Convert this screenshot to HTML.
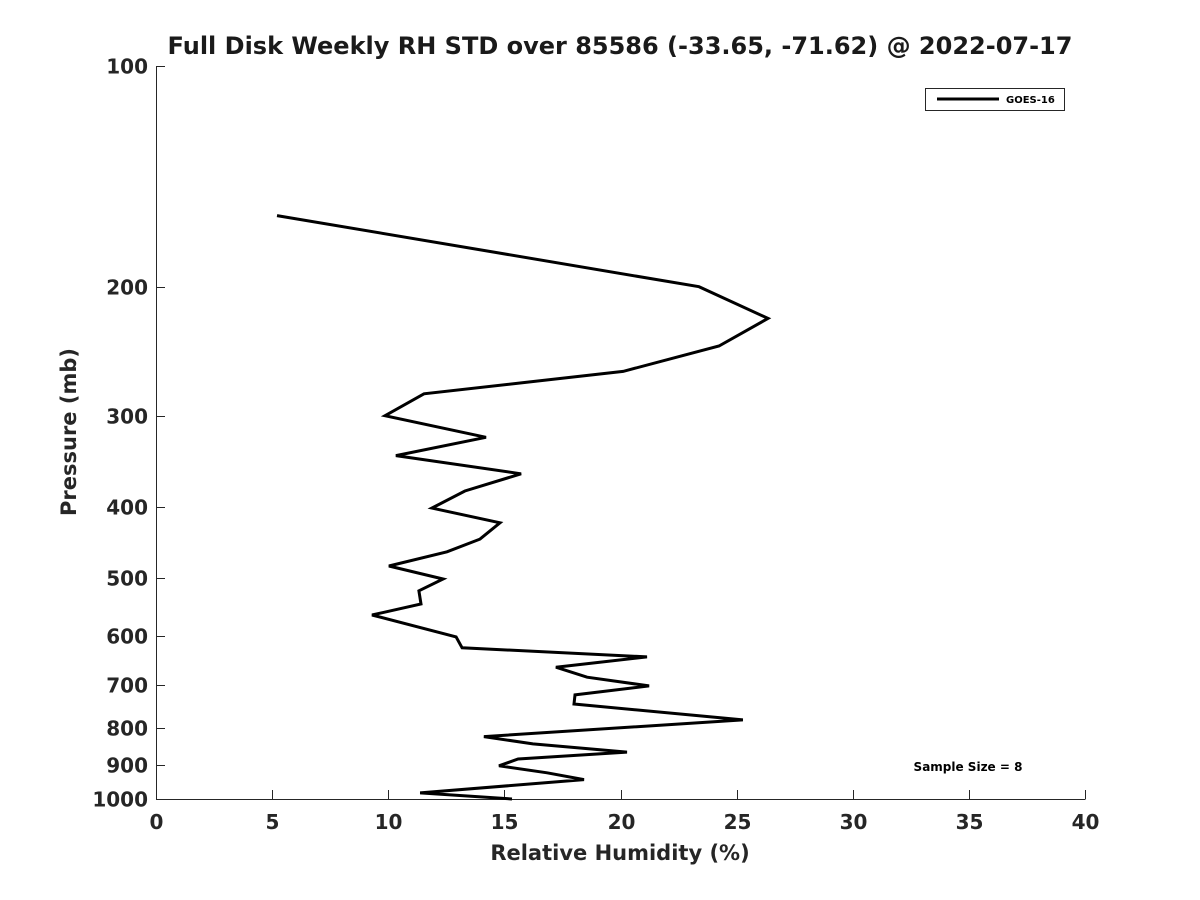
<!DOCTYPE html>
<html><head><meta charset="utf-8"><style>
html,body{margin:0;padding:0;background:#fff;width:1200px;height:900px;overflow:hidden}
svg{font-family:"DejaVu Sans","Liberation Sans",sans-serif;font-weight:bold}
</style></head><body>
<svg id="chart" width="1200" height="900">
<rect width="1200" height="900" fill="#fff"/>
<text x="620" y="54" text-anchor="middle" font-size="24" fill="#1a1a1a">Full Disk Weekly RH STD over 85586 (-33.65, -71.62) @ 2022-07-17</text>
<g id="axes"></g>
<g id="series"></g>
<text x="620" y="860" text-anchor="middle" font-size="21" fill="#262626">Relative Humidity (%)</text>
<text transform="translate(76,432) rotate(-90)" text-anchor="middle" font-size="21" fill="#262626">Pressure (mb)</text>
<g>
<rect x="925.5" y="88.5" width="139" height="22" fill="#fff" stroke="#262626" stroke-width="1"/>
<line x1="937" y1="99" x2="999" y2="99" stroke="#000" stroke-width="3"/>
<text x="1006" y="103" font-size="10" fill="#000">GOES-16</text>
</g>
<text x="968" y="771" text-anchor="middle" font-size="12" fill="#000">Sample Size = 8</text>
</svg>
<script>
const xTicks=[0,5,10,15,20,25,30,35,40];
const yTicks=[100,200,300,400,500,600,700,800,900,1000];
const rhStd=[5.21,23.38,26.35,24.24,20.11,11.54,9.86,14.21,10.33,15.72,13.30,11.88,14.81,13.95,12.53,10.03,12.36,11.32,11.41,9.30,12.92,13.18,21.14,17.22,18.56,21.23,18.04,18.00,25.27,14.12,16.23,20.28,15.59,14.77,16.84,18.43,11.37,15.33];
const pressure=[160,200,221,241,261,280,300,321,340,360,380,401,420,442,460,481,501,520,542,561,601,622,640,661,682,701,721,742,780,822,841,863,882,901,921,941,981,1000];
const X0=156,X1=1085,Y0=66,Y1=799;
const xs=v=>X0+(v-0)/(40-0)*(X1-X0);
const ys=p=>Y0+(Math.log10(p)-2)/(3-2)*(Y1-Y0);
const NS="http://www.w3.org/2000/svg";
const ax=document.getElementById('axes');
function mk(t,a,p){const e=document.createElementNS(NS,t);for(const k in a)e.setAttribute(k,a[k]);p.appendChild(e);return e;}
const xl=mk('line',{x1:X0,y1:Y1+0.5,x2:X1+0.5,y2:Y1+0.5,stroke:'#262626','stroke-width':1},ax);


const yl=mk('line',{x1:X0+0.5,y1:Y0,x2:X0+0.5,y2:Y1+0.5,stroke:'#262626','stroke-width':1},ax);


xTicks.forEach(v=>{const x=Math.round(xs(v))+0.5;
 const t=mk('line',{x1:x,y1:Y1,x2:x,y2:Y1-9,stroke:'#262626','stroke-width':1},ax);
 
 
 const l=mk('text',{x:x,y:Y1+30,'text-anchor':'middle','font-size':20,fill:'#262626'},ax);
 l.textContent=v;
 
 
});
yTicks.forEach(v=>{const y=Math.round(ys(v))+0.5;
 const t=mk('line',{x1:X0,y1:y,x2:X0+9,y2:y,stroke:'#262626','stroke-width':1},ax);
 
 
 const l=mk('text',{x:X0-8,y:y+7,'text-anchor':'end','font-size':20,fill:'#262626'},ax);
 l.textContent=v;
 
 
});
const pts=rhStd.map((v,i)=>xs(v).toFixed(1)+','+ys(pressure[i]).toFixed(1)).join(' ');
const pl=mk('polyline',{points:pts,fill:'none',stroke:'#000','stroke-width':3,'stroke-linejoin':'miter'},document.getElementById('series'));


</script>
</body></html>
